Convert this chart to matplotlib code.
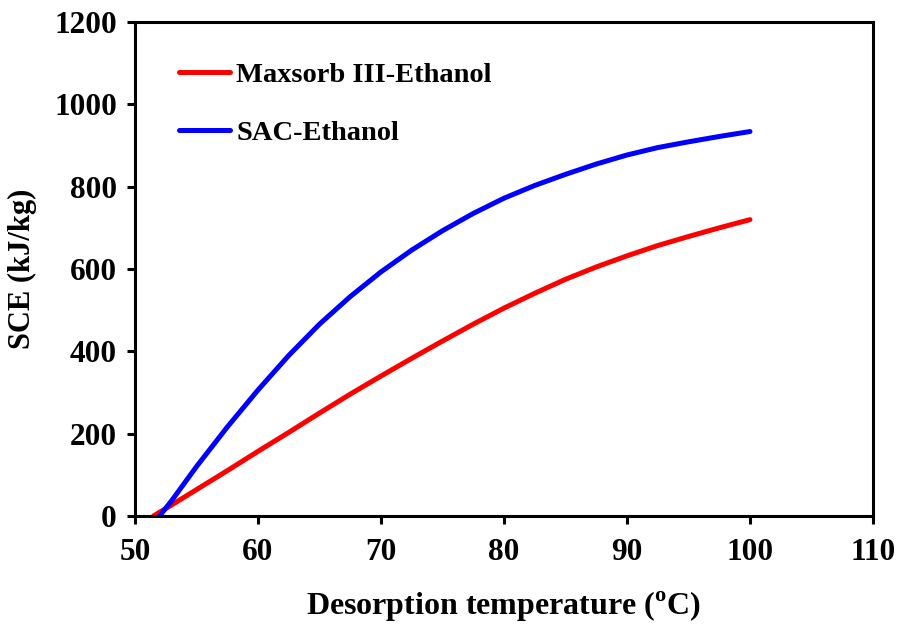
import matplotlib
matplotlib.use("Agg")
import matplotlib.pyplot as plt

# values
temp_maxsorb = [51.5, 52.5, 55, 57.5, 60, 62.5, 65, 67.5, 70, 72.5, 75,
                77.5, 80, 82.5, 85, 87.5, 90, 92.5, 95, 97.5, 100]
sce_maxsorb = [0, 18, 64, 110, 157, 203, 250, 296, 340, 383, 425,
               466, 505, 541, 575, 605, 632, 657, 679, 700, 720]

temp_sac = [52, 53, 55, 57.5, 60, 62.5, 65, 67.5, 70, 72.5, 75,
            77.5, 80, 82.5, 85, 87.5, 90, 92.5, 95, 97.5, 100]
sce_sac = [0, 38, 120, 216, 306, 390, 466, 533, 593, 646, 693,
           735, 772, 803, 830, 855, 877, 895, 909, 922, 934]

x_ticks = [50, 60, 70, 80, 90, 100, 110]
y_ticks = [0, 200, 400, 600, 800, 1000, 1200]

plt.rcParams['font.family'] = 'Liberation Serif'
plt.rcParams['font.weight'] = 'bold'
plt.rcParams['mathtext.fontset'] = 'custom'
plt.rcParams['mathtext.rm'] = 'Liberation Serif:bold'

fig = plt.figure(figsize=(9, 6.3), dpi=100)
ax = fig.add_axes([0.15, 0.181, 0.82, 0.784])

ax.plot(temp_maxsorb, sce_maxsorb, color="red", lw=3.6, solid_capstyle="round",
        label="Maxsorb III-Ethanol")
ax.plot(temp_sac, sce_sac, color="blue", lw=3.6, solid_capstyle="round",
        label="SAC-Ethanol")

ax.set_xlim(50, 110)
ax.set_ylim(0, 1200)
ax.set_xticks(x_ticks)
ax.set_yticks(y_ticks)
ax.tick_params(direction="out", length=6, width=2.2, labelsize=22.5)
ax.tick_params(axis="x", pad=10)
ax.tick_params(axis="y", pad=7)
for s in ax.spines.values():
    s.set_linewidth(2.2)

ax.set_xlabel("Desorption temperature ($^{\\mathrm{o}}$C)", fontsize=23,
              fontweight="bold", labelpad=16)
ax.set_ylabel("SCE (kJ/kg)", fontsize=22, fontweight="bold", labelpad=12)

ax.legend(loc="upper left", frameon=False, fontsize=20.5, handlelength=1.8,
          handletextpad=0.2, labelspacing=1.1, bbox_to_anchor=(0.025, 0.97))

fig.savefig("out.png", dpi=100)
